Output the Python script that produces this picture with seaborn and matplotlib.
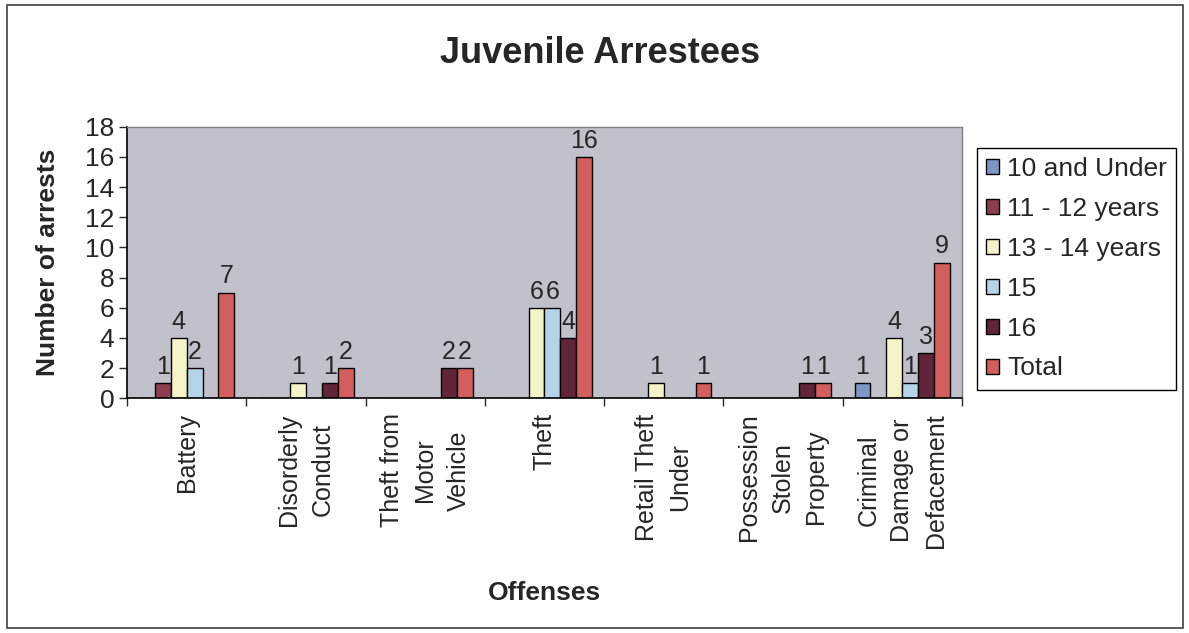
import pandas as pd
import numpy as np
import matplotlib.pyplot as plt
import seaborn as sns
from matplotlib.patches import Rectangle

offenses = ['Battery', 'Disorderly\nConduct', 'Theft from\nMotor\nVehicle', 'Theft',
            'Retail Theft\nUnder', 'Possession\nStolen\nProperty', 'Criminal\nDamage or\nDefacement']
age_groups = ['10 and Under', '11 - 12 years', '13 - 14 years', '15', '16', 'Total']

under_10 = [0, 0, 0, 0, 0, 0, 1]
age_11_12 = [1, 0, 0, 0, 0, 0, 0]
age_13_14 = [4, 1, 0, 6, 1, 0, 4]
age_15 = [2, 0, 0, 6, 0, 0, 1]
age_16 = [0, 1, 2, 4, 0, 1, 3]
total = [7, 2, 2, 16, 1, 1, 9]

colors = ['#7092d2', '#9b2f48', '#fdfbc0', '#acd6f2', '#6c1a34', '#e84a4a']

series = [under_10, age_11_12, age_13_14, age_15, age_16, total]
rows = []
for age, vals in zip(age_groups, series):
    for off, v in zip(offenses, vals):
        rows.append({'Offense': off, 'Age': age, 'Arrests': v})
df = pd.DataFrame(rows)

sns.set_style('white')
plt.rcParams['font.family'] = ['Liberation Sans', 'DejaVu Sans']

fig = plt.figure(figsize=(11.89, 6.33), dpi=100)
ax = fig.add_axes([0.1068, 0.371, 0.7022, 0.4286])
ax.set_facecolor('#c1c1cb')

sns.barplot(data=df, x='Offense', y='Arrests', hue='Age', order=offenses, hue_order=age_groups,
            palette=colors, edgecolor='black', linewidth=1.0, width=0.8, ax=ax)

for cont, vals in zip(ax.containers, series):
    ax.bar_label(cont, labels=[str(v) if v > 0 else '' for v in vals], padding=3, fontsize=18)

ax.set_ylim(0, 18)
ax.set_xlim(-0.5, len(offenses) - 0.5)
ax.set_yticks(range(0, 19, 2))
ax.tick_params(axis='y', labelsize=19, length=6, width=1, direction='out', left=True, pad=3)
ax.set_xticks(range(len(offenses)))
ax.set_xticklabels(offenses, rotation=90, fontsize=18, va='top', ha='center',
                   multialignment='center', linespacing=1.5)
ax.tick_params(axis='x', length=0, pad=11)
ax.set_xticks(np.arange(-0.5, len(offenses), 1), minor=True)
ax.tick_params(axis='x', which='minor', length=6, width=1, direction='out', bottom=True)

ax.set_xlabel('Offenses', fontsize=19, fontweight='bold', labelpad=24)
ax.set_ylabel('Number of arrests', fontsize=19, fontweight='bold', labelpad=18)

for s in ['left', 'bottom']:
    ax.spines[s].set_color('black')
    ax.spines[s].set_linewidth(1.2)
for s in ['top', 'right']:
    ax.spines[s].set_color('#808080')
    ax.spines[s].set_linewidth(1)

handles, labels = ax.get_legend_handles_labels()
ax.legend(handles, labels, loc='upper left', bbox_to_anchor=(977 / 1189, 1 - 148 / 633),
          bbox_transform=fig.transFigure, fontsize=19, frameon=True, fancybox=False,
          edgecolor='black', framealpha=1, handlelength=0.5, handleheight=0.5,
          handletextpad=0.3, labelspacing=0.6, borderpad=0.35, borderaxespad=0)

fig.suptitle('Juvenile Arrestees', x=0.505, y=0.943, fontsize=26, fontweight='bold')
fig.patches.append(Rectangle((0.006, 0.008), 0.989, 0.984, transform=fig.transFigure,
                             fill=False, edgecolor='#404040', linewidth=1.2))

fig.savefig('out.png', dpi=100)
